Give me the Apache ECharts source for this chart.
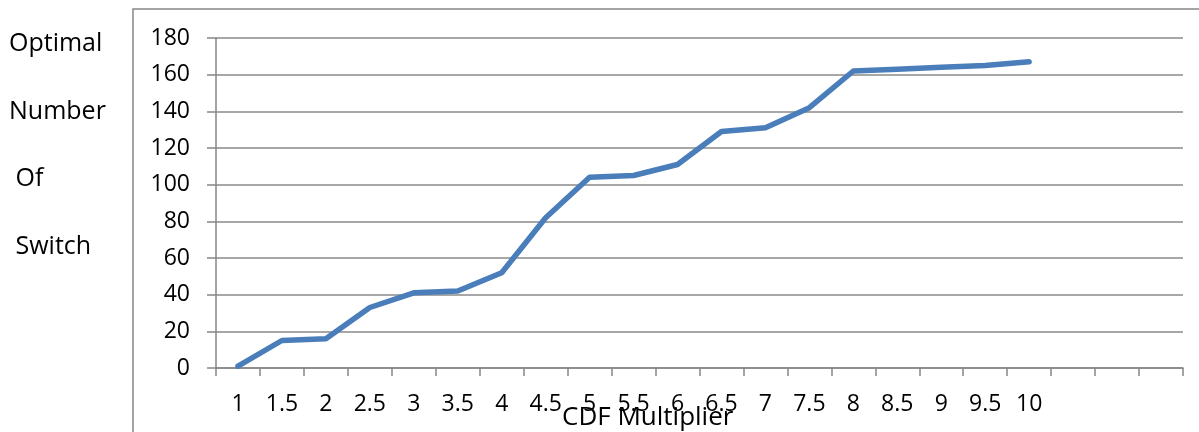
<!DOCTYPE html>
<html>
<head>
<meta charset="utf-8">
<script src="https://cdn.jsdelivr.net/npm/echarts@6/dist/echarts.min.js"></script>
<style>
  html, body { margin: 0; padding: 0; background: #ffffff; }
  #chart { width: 1199px; height: 432px; }
</style>
</head>
<body>
<div id="chart"></div>
<script>
// CDF multiplier steps (three trailing empty slots on the axis)
const categories = ['1', '1.5', '2', '2.5', '3', '3.5', '4', '4.5', '5', '5.5',
                    '6', '6.5', '7', '7.5', '8', '8.5', '9', '9.5', '10', '', '', ''];
// Optimal number of switches for each multiplier
const switchCounts = [1, 15, 16, 33, 41, 42, 52, 82, 104, 105,
                      111, 129, 131, 142, 162, 163, 164, 165, 167];
const yMin = 0, yMax = 180, yStep = 20;
const yTitleLines = ['Optimal', 'Number', ' Of', ' Switch'];
const xTitle = 'CDF Multiplier';

const FONT = '"Open Sans", "Noto Sans", sans-serif';
const AXIS_GRAY = '#868686';

const chart = echarts.init(document.getElementById('chart'), null, { renderer: 'canvas' });

// vertical centres of the stacked y title words
const titleY = [44, 112, 179, 247];
const titleX = [9, 9, 9, 9];

chart.setOption({
  animation: false,
  backgroundColor: '#ffffff',
  grid: { left: 216, top: 38, right: 16, bottom: 64, containLabel: false },
  xAxis: {
    type: 'category',
    data: categories,
    boundaryGap: true,
    axisLine: { show: true, lineStyle: { color: AXIS_GRAY, width: 1.5 } },
    axisTick: { show: true, length: 8, alignWithLabel: false, interval: 0,
                lineStyle: { color: AXIS_GRAY, width: 1.5 } },
    axisLabel: { interval: 0, margin: 25, color: '#000000', fontFamily: FONT, fontSize: 23 },
    splitLine: { show: false }
  },
  yAxis: {
    type: 'value',
    min: yMin, max: yMax, interval: yStep,
    axisLine: { show: true, lineStyle: { color: AXIS_GRAY, width: 1.5 } },
    axisTick: { show: true, length: 9, lineStyle: { color: AXIS_GRAY, width: 1.5 } },
    axisLabel: { margin: 26, color: '#000000', fontFamily: FONT, fontSize: 23 },
    splitLine: { show: true, lineStyle: { color: '#8a8a8a', width: 1.5 } }
  },
  series: [{
    type: 'line',
    data: switchCounts,
    showSymbol: false,
    symbol: 'none',
    lineStyle: { color: '#4a7ebb', width: 5.5, cap: 'round', join: 'round' },
    z: 5
  }],
  graphic: [
    // outer frame of the chart area
    { type: 'polyline', silent: true,
      shape: { points: [[133, 440], [133, 9], [1205, 9]] },
      style: { stroke: AXIS_GRAY, lineWidth: 1.5, fill: null } },
    // axis title below the category labels
    { type: 'text', silent: true, x: 562, y: 418,
      style: { text: xTitle, fill: '#000000', font: '26px ' + FONT, verticalAlign: 'middle' } }
  ].concat(yTitleLines.map((t, i) => ({
    type: 'text', silent: true, x: titleX[i], y: titleY[i],
    style: { text: t, fill: '#000000', font: '25px ' + FONT, verticalAlign: 'middle' }
  })))
});
</script>
</body>
</html>
